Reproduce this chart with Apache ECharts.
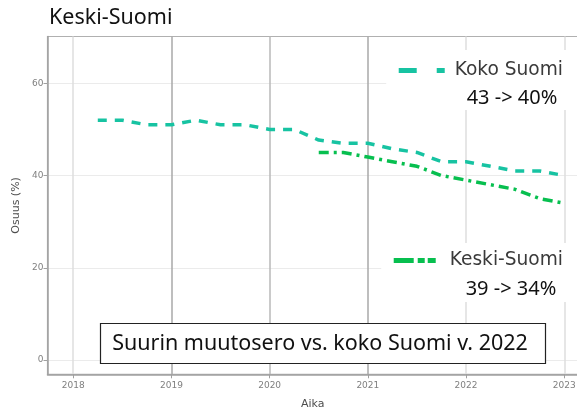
<!DOCTYPE html>
<html>
<head>
<meta charset="utf-8">
<title>Keski-Suomi</title>
<script src="https://cdn.jsdelivr.net/npm/echarts@6/dist/echarts.min.js"></script>
<style>
  html, body { margin: 0; padding: 0; background: #fff; }
  #main { width: 577px; height: 411px; }
</style>
</head>
<body>
<div id="main"></div>
<script type="text/javascript">
// neljännesvuodet
var aika = [2018.25, 2018.5, 2018.75, 2019, 2019.25, 2019.5, 2019.75, 2020,
            2020.25, 2020.5, 2020.75, 2021, 2021.25, 2021.5, 2021.75, 2022,
            2022.25, 2022.5, 2022.75, 2023];
var kokoSuomi = [52, 52, 51, 51, 52, 51, 51, 50, 50, 47.7, 47, 47, 45.8, 45, 43, 43, 42, 41, 41, 40];
var keskiSuomi = [null, null, null, null, null, null, null, null, null,
                  45, 45, 44, 43, 42, 40, 39, 38, 37, 35, 34];
var vuodet = [2018, 2019, 2020, 2021, 2022, 2023];
var yTicks = [0, 20, 40, 60];
var vertailuVuosi = 2022, loppuVuosi = 2023;

function pairs(vals) {
    var out = [];
    aika.forEach(function (t, i) {
        if (vals[i] != null) out.push([t, vals[i]]);
    });
    return out;
}
function muutos(vals) {
    return vals[aika.indexOf(vertailuVuosi)] + ' -> ' + vals[aika.indexOf(loppuVuosi)] + '%';
}

var teal = '#17c3a2';
var vihrea = '#07bf4f';
var tickFont = 'DejaVu Sans';

var legendBase = {
    right: 0,
    backgroundColor: '#fff',
    itemWidth: 46, itemHeight: 14,
    itemStyle: { opacity: 0 },
    textStyle: { fontFamily: tickFont, fontSize: 18.6, color: '#3a3a3a', padding: [0, 0, 0, 5] }
};

var option = {
    animation: false,
    backgroundColor: '#fff',
    title: {
        text: 'Keski-Suomi',
        left: 44,
        top: 2,
        textStyle: { fontFamily: 'Noto Sans', fontSize: 21.5, fontWeight: 'normal', color: '#111' }
    },
    grid: {
        left: 47.5, right: -1, top: 36.5, bottom: 36.7,
        outerBoundsMode: 'none',
        containLabel: false,
        show: true, borderColor: '#b0b0b0', borderWidth: 1.2, backgroundColor: 'transparent'
    },
    legend: [
        Object.assign({}, legendBase, {
            data: ['Koko Suomi'], top: 50, padding: [11, 14, 30, 10],
            lineStyle: { width: 5, type: [18, 20] }
        }),
        Object.assign({}, legendBase, {
            data: ['Keski-Suomi'], top: 243, padding: [8, 14, 32, 10],
            lineStyle: { width: 5, type: [20, 4, 7, 3, 8, 10] }
        })
    ],
    xAxis: {
        type: 'value',
        min: 2017.738, max: 2023.14,
        name: 'Aika',
        nameLocation: 'middle',
        nameGap: 24,
        nameTextStyle: { fontFamily: tickFont, fontSize: 11, color: '#4d4d4d' },
        axisLine: { show: true, onZero: false, lineStyle: { color: '#a0a0a0', width: 1.5 } },
        axisTick: { show: true, customValues: vuodet, length: 4, lineStyle: { color: '#a0a0a0' } },
        axisLabel: {
            customValues: vuodet, margin: 7,
            fontFamily: tickFont, fontSize: 9, color: '#7f7f7f',
            formatter: function (v) { return String(v); }
        },
        splitLine: {
            show: true,
            lineStyle: { color: ['#dedede', '#a8a8a8', '#b8b8b8', '#a8a8a8', '#dedede', '#dedede'], width: 1.5 }
        }
    },
    yAxis: {
        type: 'value',
        min: -3.1, max: 70.15,
        name: 'Osuus (%)',
        nameLocation: 'middle',
        nameGap: 23,
        nameTextStyle: { fontFamily: tickFont, fontSize: 11, color: '#4d4d4d' },
        axisLine: { show: true, onZero: false, lineStyle: { color: '#a0a0a0', width: 1.5 } },
        axisTick: { show: true, customValues: yTicks, length: 4, lineStyle: { color: '#a0a0a0' } },
        axisLabel: {
            customValues: yTicks, margin: 4,
            fontFamily: tickFont, fontSize: 9, color: '#7f7f7f'
        },
        splitLine: { show: true, lineStyle: { color: '#ebebeb', width: 1.2 } }
    },
    series: [{
        name: 'Koko Suomi',
        type: 'line',
        data: pairs(kokoSuomi),
        symbol: 'none',
        itemStyle: { color: teal },
        lineStyle: { color: teal, width: 3.5, type: [9, 8] }
    }, {
        name: 'Keski-Suomi',
        type: 'line',
        data: pairs(keskiSuomi),
        symbol: 'none',
        itemStyle: { color: vihrea },
        lineStyle: { color: vihrea, width: 3.5, type: [10, 5, 3, 5] }
    }],
    graphic: [{
        type: 'text',
        z: 100,
        style: {
            text: muutos(kokoSuomi), x: 512, y: 98, align: 'center', verticalAlign: 'middle',
            font: '20px "Noto Sans"', fill: '#111'
        }
    }, {
        type: 'text',
        z: 100,
        style: {
            text: muutos(keskiSuomi), x: 511, y: 289, align: 'center', verticalAlign: 'middle',
            font: '20px "Noto Sans"', fill: '#111'
        }
    }, {
        type: 'rect',
        z: 100,
        shape: { x: 100.5, y: 323.5, width: 445, height: 40 },
        style: { fill: '#fff', stroke: '#222', lineWidth: 1.2 }
    }, {
        type: 'text',
        z: 101,
        style: {
            text: 'Suurin muutosero vs. koko Suomi v. 2022', x: 320, y: 344,
            align: 'center', verticalAlign: 'middle',
            font: '21.5px "Noto Sans"', fill: '#111'
        }
    }]
};

var myChart = echarts.init(document.getElementById('main'));
myChart.setOption(option);
</script>
</body>
</html>
